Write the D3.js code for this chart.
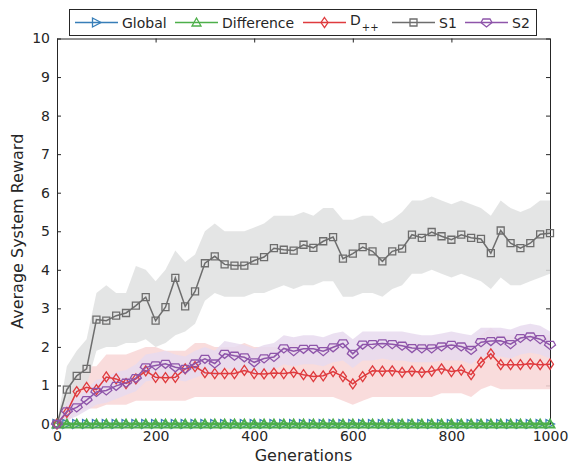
<!DOCTYPE html>
<html>
<head>
<meta charset="utf-8">
<script src="https://cdn.jsdelivr.net/npm/d3@7"></script>
<style>
  body { margin: 0; background: #fff; }
  text { font-family: "DejaVu Sans", sans-serif; fill: #262626; }
</style>
</head>
<body>
<div id="chart"></div>
<script>
// generations where a point is plotted
const gens = [0, 20, 40, 60, 80, 100, 120, 140, 160, 180, 200, 220, 240, 260, 280, 300, 320, 340, 360, 380, 400,
  420, 440, 460, 480, 500, 520, 540, 560, 580, 600, 620, 640, 660, 680, 700, 720, 740, 760, 780, 800,
  820, 840, 860, 880, 900, 920, 940, 960, 980, 1000];

const globalReward = [0, 0, 0, 0, 0, 0, 0, 0, 0, 0, 0, 0, 0, 0, 0, 0, 0, 0, 0, 0, 0, 0, 0, 0, 0, 0,
  0, 0, 0, 0, 0, 0, 0, 0, 0, 0, 0, 0, 0, 0, 0, 0, 0, 0, 0, 0, 0, 0, 0, 0, 0];
const differenceReward = [0, 0, 0, 0, 0, 0, 0, 0, 0, 0, 0, 0, 0, 0, 0, 0, 0, 0, 0, 0, 0, 0, 0, 0, 0, 0,
  0, 0, 0, 0, 0, 0, 0, 0, 0, 0, 0, 0, 0, 0, 0, 0, 0, 0, 0, 0, 0, 0, 0, 0, 0];

const dppReward = [0, 0.30, 0.84, 0.95, 0.89, 1.22, 1.17, 1.05, 1.17, 1.38, 1.21, 1.20, 1.21, 1.43, 1.49, 1.33,
  1.31, 1.31, 1.31, 1.39, 1.31, 1.30, 1.32, 1.31, 1.34, 1.28, 1.23, 1.25, 1.36, 1.23, 1.04, 1.23, 1.38, 1.37,
  1.38, 1.34, 1.37, 1.34, 1.37, 1.43, 1.36, 1.40, 1.28, 1.60, 1.82, 1.54, 1.54, 1.54, 1.56, 1.54, 1.55];
const dppLow = [0, 0.05, 0.3, 0.4, 0.4, 0.5, 0.5, 0.5, 0.6, 0.6, 0.6, 0.6, 0.6, 0.6, 0.7, 0.7, 0.7, 0.7, 0.7,
  0.7, 0.7, 0.7, 0.7, 0.7, 0.7, 0.7, 0.7, 0.7, 0.7, 0.6, 0.5, 0.6, 0.7, 0.7, 0.7, 0.7, 0.7, 0.7, 0.7, 0.8,
  0.8, 0.8, 0.7, 0.9, 1.0, 0.9, 0.9, 0.9, 0.9, 0.9, 0.9];
const dppHigh = [0, 0.6, 1.3, 1.5, 1.5, 1.8, 1.8, 1.8, 1.9, 2.0, 2.0, 1.9, 1.9, 1.9, 2.1, 2.1, 2.0, 2.0, 2.0,
  2.1, 2.0, 2.0, 2.0, 2.0, 2.1, 2.0, 2.0, 2.0, 2.1, 2.0, 1.8, 2.0, 2.1, 2.1, 2.1, 2.1, 2.1, 2.1, 2.1, 2.1,
  2.1, 2.1, 2.0, 2.3, 2.5, 2.3, 2.3, 2.3, 2.3, 2.3, 2.3];

const s1Reward = [0, 0.89, 1.25, 1.43, 2.71, 2.68, 2.81, 2.88, 3.07, 3.29, 2.68, 3.03, 3.79, 3.05, 3.44, 4.17,
  4.35, 4.14, 4.11, 4.11, 4.24, 4.33, 4.56, 4.52, 4.50, 4.65, 4.57, 4.74, 4.85, 4.29, 4.42, 4.59, 4.48, 4.22,
  4.48, 4.55, 4.91, 4.83, 4.98, 4.87, 4.78, 4.91, 4.83, 4.80, 4.43, 5.02, 4.69, 4.56, 4.69, 4.92, 4.95];
const s1Low = [0, 0.4, 0.8, 1.0, 1.9, 2.0, 2.0, 2.1, 2.1, 2.2, 2.0, 2.1, 2.3, 2.4, 2.6, 3.2, 3.4, 3.3, 3.3,
  3.3, 3.4, 3.4, 3.5, 3.6, 3.5, 3.6, 3.6, 3.7, 3.7, 3.3, 3.3, 3.4, 3.4, 3.3, 3.5, 3.6, 3.9, 3.9, 4.0, 3.9,
  3.8, 3.9, 3.8, 3.7, 3.5, 3.8, 3.6, 3.6, 3.7, 3.8, 3.9];
const s1High = [0, 1.5, 1.9, 2.2, 3.4, 3.6, 3.4, 3.4, 4.1, 4.0, 3.7, 4.0, 4.5, 4.2, 4.4, 5.0, 5.2, 5.0, 5.0,
  5.0, 5.1, 5.2, 5.4, 5.4, 5.4, 5.5, 5.4, 5.6, 5.6, 5.3, 5.3, 5.4, 5.4, 5.2, 5.3, 5.5, 5.8, 5.8, 5.9, 5.8,
  5.7, 5.8, 5.7, 5.6, 5.4, 5.8, 5.6, 5.5, 5.6, 5.8, 5.8];

const s2Reward = [0, 0.33, 0.43, 0.62, 0.83, 0.87, 0.99, 1.07, 1.19, 1.47, 1.52, 1.56, 1.47, 1.43, 1.57, 1.69,
  1.57, 1.82, 1.77, 1.73, 1.60, 1.70, 1.74, 1.96, 1.89, 1.95, 1.95, 1.89, 1.99, 2.09, 1.82, 2.06, 2.07, 2.09,
  2.07, 2.03, 1.97, 1.96, 1.96, 2.01, 2.05, 2.01, 1.92, 2.12, 2.15, 2.16, 2.07, 2.23, 2.27, 2.20, 2.05];
const s2Low = [0, 0.1, 0.2, 0.35, 0.5, 0.55, 0.65, 0.75, 0.85, 1.1, 1.15, 1.2, 1.15, 1.1, 1.2, 1.3, 1.25, 1.45,
  1.4, 1.4, 1.3, 1.35, 1.4, 1.55, 1.5, 1.55, 1.55, 1.5, 1.6, 1.65, 1.45, 1.65, 1.65, 1.7, 1.65, 1.65, 1.6,
  1.6, 1.6, 1.65, 1.65, 1.65, 1.55, 1.75, 1.75, 1.75, 1.7, 1.8, 1.85, 1.8, 1.7];
const s2High = [0, 0.55, 0.7, 0.9, 1.15, 1.2, 1.35, 1.4, 1.55, 1.8, 1.85, 1.9, 1.8, 1.75, 1.9, 2.0, 1.9, 2.15,
  2.1, 2.05, 1.95, 2.05, 2.1, 2.3, 2.25, 2.3, 2.3, 2.25, 2.35, 2.4, 2.2, 2.4, 2.4, 2.4, 2.4, 2.4, 2.35, 2.3,
  2.3, 2.35, 2.4, 2.35, 2.3, 2.5, 2.5, 2.5, 2.45, 2.55, 2.6, 2.55, 2.4];

const xTicks = [0, 200, 400, 600, 800, 1000];
const yTicks = [0, 1, 2, 3, 4, 5, 6, 7, 8, 9, 10];

// marker shapes (paths around 0,0)
const markerPaths = {
  right: 'M-4,-4.5L4.5,0L-4,4.5Z',
  up: 'M0,-4.5L4.5,3.5L-4.5,3.5Z',
  diamond: 'M0,-5L3.5,0L0,5L-3.5,0Z',
  square: 'M-3.5,-3.5H3.5V3.5H-3.5Z',
  shield: 'M-3.5,-3.5H3.5L5.5,0L0,4.5L-5.5,0Z'
};

const series = [
  { name: 'Global', values: globalReward, color: '#377eb8', marker: 'right', width: 1.5 },
  { name: 'Difference', values: differenceReward, color: '#4daf4a', marker: 'up', width: 3 },
  { name: 'D++', values: dppReward, low: dppLow, high: dppHigh, color: '#df3b3e', band: '#f8d6d6', marker: 'diamond', width: 1.5 },
  { name: 'S1', values: s1Reward, low: s1Low, high: s1High, color: '#6d6d6d', band: '#dfe0e0', marker: 'square', width: 1.5 },
  { name: 'S2', values: s2Reward, low: s2Low, high: s2High, color: '#8e55aa', band: '#e8dbee', marker: 'shield', width: 1.5 }
];

const W = 574, H = 467;
const margin = { top: 38.5, right: 24, bottom: 43, left: 57 };
const width = W - margin.left - margin.right;
const height = H - margin.top - margin.bottom;

const x = d3.scaleLinear().domain([0, 1000]).range([0, width]);
const y = d3.scaleLinear().domain([0, 10]).range([height, 0]);

const svg = d3.select('#chart').append('svg')
  .attr('width', W)
  .attr('height', H);

const g = svg.append('g')
  .attr('transform', 'translate(' + margin.left + ',' + margin.top + ')');

// axes first so the zero lines sit on top of the frame; ticks point inwards
const axisColor = '#262626';
function styleAxis(sel) {
  sel.select('.domain').attr('stroke', axisColor).attr('stroke-width', 1);
  sel.selectAll('.tick line').attr('stroke', axisColor);
  sel.selectAll('.tick text')
    .style('font-size', '14px')
    .style('font-family', '"DejaVu Sans", sans-serif')
    .attr('fill', '#262626');
}

g.append('g')
  .attr('transform', 'translate(0,' + height + ')')
  .call(d3.axisBottom(x).tickValues(xTicks).tickFormat(d3.format('d')).tickSize(-4).tickPadding(7).tickSizeOuter(0))
  .call(styleAxis);

g.append('g')
  .call(d3.axisLeft(y).tickValues(yTicks).tickFormat(d3.format('d')).tickSize(-4).tickPadding(7).tickSizeOuter(0))
  .call(styleAxis);

g.append('g')
  .call(d3.axisTop(x).tickValues(xTicks).tickSize(-4).tickFormat('').tickSizeOuter(0))
  .call(styleAxis);

g.append('g')
  .attr('transform', 'translate(' + width + ',0)')
  .call(d3.axisRight(y).tickValues(yTicks).tickSize(-4).tickFormat('').tickSizeOuter(0))
  .call(styleAxis);

// shaded spread bands, drawn under every line
const area = d3.area()
  .x((d, i) => x(gens[i]))
  .y0(d => y(d[0]))
  .y1(d => y(d[1]));

series.filter(s => s.band).forEach(s => {
  g.append('path')
    .datum(s.low.map((v, i) => [v, s.high[i]]))
    .attr('fill', s.band)
    .attr('fill-opacity', 0.85)
    .attr('d', area);
});

const line = d3.line()
  .x((d, i) => x(gens[i]))
  .y(d => y(d));

series.forEach(s => {
  g.append('path')
    .datum(s.values)
    .attr('fill', 'none')
    .attr('stroke', s.color)
    .attr('stroke-width', s.width)
    .attr('d', line);

  g.selectAll(null)
    .data(s.values)
    .enter().append('path')
    .attr('transform', (d, i) => 'translate(' + x(gens[i]) + ',' + y(d) + ')')
    .attr('d', markerPaths[s.marker])
    .attr('fill', 'none')
    .attr('stroke', s.color)
    .attr('stroke-width', s.marker === 'up' ? 1.8 : 1.3);
});

// axis titles
svg.append('text')
  .attr('x', margin.left + width / 2)
  .attr('y', 461)
  .attr('text-anchor', 'middle')
  .style('font-size', '16px')
  .text('Generations');

svg.append('text')
  .attr('transform', 'translate(23,' + (margin.top + height / 2) + ') rotate(-90)')
  .attr('text-anchor', 'middle')
  .style('font-size', '16px')
  .text('Average System Reward');

// legend across the top
const legend = svg.append('g');
legend.append('rect')
  .attr('x', 69.5).attr('y', 9.5)
  .attr('width', 467).attr('height', 26)
  .attr('fill', '#fff')
  .attr('stroke', axisColor)
  .attr('stroke-width', 1);

const legendX = [75, 175, 303, 392, 465];
const legendY = 22.5;
series.forEach((s, i) => {
  const x0 = legendX[i];
  const item = legend.append('g');
  item.append('line')
    .attr('x1', x0).attr('x2', x0 + 43)
    .attr('y1', legendY).attr('y2', legendY)
    .attr('stroke', s.color)
    .attr('stroke-width', 1.5);
  item.append('path')
    .attr('transform', 'translate(' + (x0 + 21.5) + ',' + legendY + ')')
    .attr('d', markerPaths[s.marker])
    .attr('fill', 'none')
    .attr('stroke', s.color)
    .attr('stroke-width', 1.3);
  const label = item.append('text')
    .attr('x', x0 + 47)
    .attr('y', 27.5)
    .attr('fill', '#262626')
    .style('font-size', '14px');
  if (s.name === 'D++') {
    label.attr('y', 25).append('tspan').attr('fill', '#262626').text('D');
    label.append('tspan').attr('dy', 6).attr('dx', 1).attr('fill', '#262626')
      .style('font-size', '10px').text('++');
  } else {
    label.text(s.name);
  }
});
</script>
</body>
</html>
